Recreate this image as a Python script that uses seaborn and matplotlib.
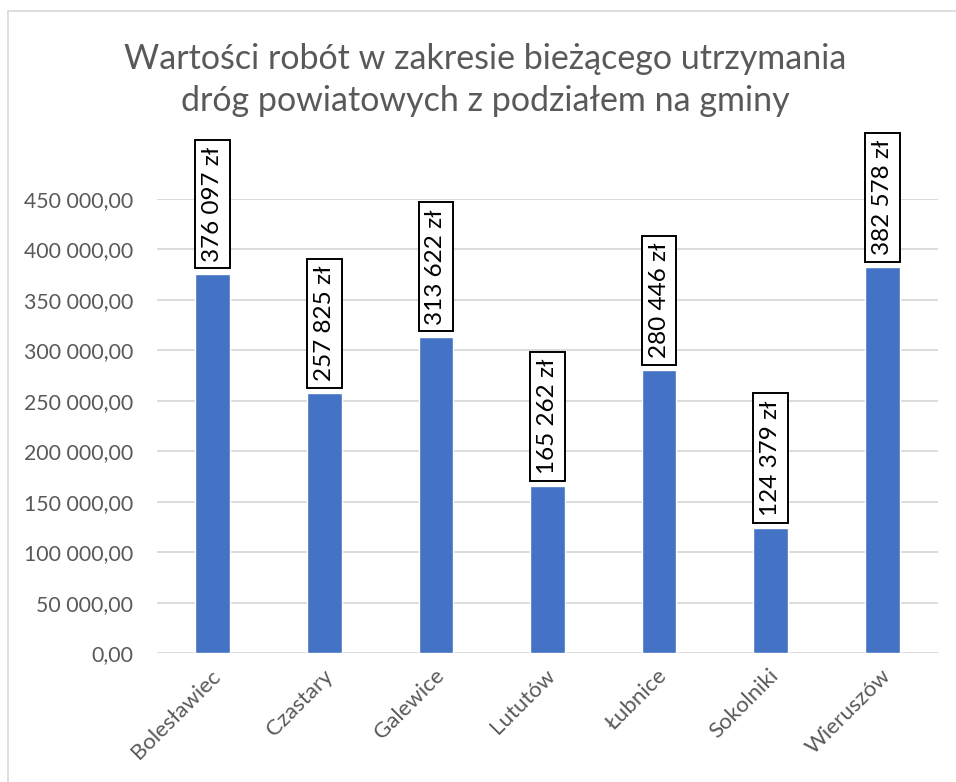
import numpy as np
import pandas as pd
import seaborn as sns
import matplotlib.pyplot as plt
import matplotlib.transforms as mtransforms
from matplotlib.lines import Line2D

gminy = ['Bolesławiec', 'Czastary', 'Galewice', 'Lututów', 'Łubnice', 'Sokolniki', 'Wieruszów']
wartosci = [376097, 257825, 313622, 165262, 280446, 124379, 382578]
y_ticks = [0, 50000, 100000, 150000, 200000, 250000, 300000, 350000, 400000, 450000]
tytul = 'Wartości robót w zakresie bieżącego utrzymania\ndróg powiatowych z podziałem na gminy'

BLUE = '#4472C4'
GREY_TXT = '#595959'
GRID = '#D9D9D9'


def pl_num(v, dec=2):
    s = f'{v:,.{dec}f}'
    return s.replace(',', ' ').replace('.', ',')


sns.set_theme(style='white')
plt.rcParams['font.family'] = ['Lato', 'DejaVu Sans']

df = pd.DataFrame({'gmina': gminy, 'wartosc': wartosci})

fig = plt.figure(figsize=(9.56, 7.82), dpi=100)
ax = fig.add_axes([157 / 956, 1 - 653.3 / 782, (938 - 157) / 956, (653.3 - 199) / 782])

sns.barplot(data=df, x='gmina', y='wartosc', color=BLUE, width=0.31, saturation=1, ax=ax)

ax.set_ylim(0, 450000)
ax.set_yticks(y_ticks)
ax.set_yticklabels([pl_num(t) for t in y_ticks], fontsize=15.3, color=GREY_TXT)
ax.tick_params(axis='y', length=0, pad=17)
ax.tick_params(axis='x', length=0, pad=14)
ax.set_xticks(range(len(gminy)))
ax.set_xticklabels(gminy, rotation=45, ha='right', rotation_mode='anchor',
                   va='center', fontsize=16, color=GREY_TXT)
# nudge the slanted labels a bit to the right, like in the original
shift = mtransforms.ScaledTranslation(5 / 100, 0, fig.dpi_scale_trans)
for lbl in ax.get_xticklabels():
    lbl.set_transform(lbl.get_transform() + shift)
ax.set_xlabel('')
ax.set_ylabel('')
ax.yaxis.grid(True, color=GRID, lw=1.3)
ax.set_axisbelow(True)
for s in ax.spines.values():
    s.set_visible(False)

for i, v in enumerate(wartosci):
    ax.annotate(f'{pl_num(v, 0)} zł', xy=(i, v), xytext=(0, 12), textcoords='offset pixels',
                rotation=90, ha='center', va='bottom', fontsize=17.5, color='black',
                annotation_clip=False,
                bbox=dict(boxstyle='square,pad=0.28', fc='white', ec='black', lw=1.4))

fig.text(485 / 956, 1 - 80 / 782, tytul, ha='center', va='center', fontsize=24.5,
         color=GREY_TXT, linespacing=1.35)

fig.add_artist(Line2D([8 / 956, 1], [1 - 11 / 782, 1 - 11 / 782], color=GRID, lw=1.2,
                      transform=fig.transFigure))
fig.add_artist(Line2D([8 / 956, 8 / 956], [0, 1 - 11 / 782], color=GRID, lw=1.2,
                      transform=fig.transFigure))

fig.savefig('out.png', dpi=100)
